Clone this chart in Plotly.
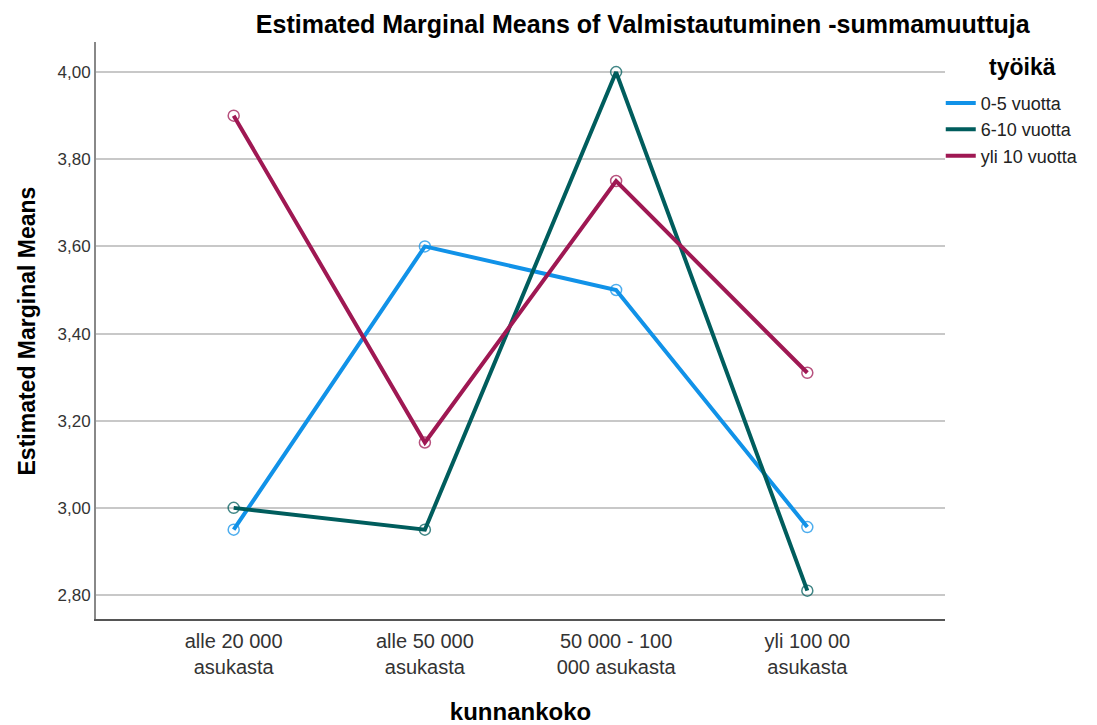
import plotly.graph_objects as go

categories = ["alle 20 000<br>asukasta", "alle 50 000<br>asukasta", "50 000 - 100<br>000 asukasta", "yli 100 00<br>asukasta"]
series_names = ["0-5 vuotta", "6-10 vuotta", "yli 10 vuotta"]
vals_0_5 = [2.95, 3.60, 3.50, 2.956]
vals_6_10 = [3.00, 2.95, 4.00, 2.81]
vals_yli10 = [3.90, 3.15, 3.75, 3.31]
colors = ["#1192e8", "#005d5d", "#9f1853"]
y_ticks = [2.8, 3.0, 3.2, 3.4, 3.6, 3.8, 4.0]
y_tick_labels = ["2,80", "3,00", "3,20", "3,40", "3,60", "3,80", "4,00"]

fig = go.Figure()
x_idx = list(range(len(categories)))
for name, vals, col in zip(series_names, [vals_0_5, vals_6_10, vals_yli10], colors):
    fig.add_trace(go.Scatter(
        x=x_idx, y=vals, name=name, mode="lines+markers", showlegend=False,
        line=dict(color=col, width=4),
        marker=dict(symbol="circle-open", size=11, color=col, opacity=0.75, line=dict(width=1.5)),
    ))
# legend entries (lines only, as in the reference legend)
for name, col in zip(series_names, colors):
    fig.add_trace(go.Scatter(
        x=[None], y=[None], name=name, mode="lines",
        line=dict(color=col, width=4), showlegend=True,
    ))

fig.update_layout(
    width=1089, height=717,
    margin=dict(l=88, r=152, t=34, b=106, autoexpand=False),
    paper_bgcolor="white", plot_bgcolor="white",
    font=dict(family="Liberation Sans, Arial, sans-serif", color="#000"),
    title=dict(text="<b>Estimated Marginal Means of Valmistautuminen -summamuuttuja</b>",
               x=0.644, xref="paper", xanchor="center", y=0.978, yref="container", yanchor="middle",
               font=dict(size=25, color="#000")),
    showlegend=True,
    legend=dict(
        x=0.995, xanchor="left", y=0.926, yanchor="top",
        font=dict(size=18, color="#222"),
        tracegroupgap=0, bgcolor="rgba(0,0,0,0)",
    ),
    annotations=[
        dict(text="<b>työikä</b>", xref="paper", yref="paper", x=1.0907, y=0.9567,
             xanchor="center", yanchor="middle", showarrow=False,
             font=dict(size=23, color="#000")),
        dict(text="<b>Estimated Marginal Means</b>", xref="paper", yref="paper",
             x=-0.0813, y=0.5, xanchor="center", yanchor="middle", textangle=-90,
             showarrow=False, font=dict(size=23, color="#000")),
    ],
)
fig.update_xaxes(
    tickmode="array", tickvals=x_idx, ticktext=categories,
    range=[-0.72, 3.72], showgrid=False, zeroline=False,
    showline=True, linecolor="#555", linewidth=1.5, ticks="",
    tickfont=dict(size=20, color="#333"), ticklabelstandoff=3,
    title=dict(text="<b>kunnankoko</b>", font=dict(size=24, color="#000"), standoff=32),
    automargin=False,
)
fig.update_yaxes(
    tickmode="array", tickvals=y_ticks, ticktext=y_tick_labels,
    range=[2.745, 4.069], showgrid=True, gridcolor="#c8c8c8", gridwidth=2,
    zeroline=False, showline=True, linecolor="#888", linewidth=2, ticks="",
    tickfont=dict(size=17, color="#333"),
    automargin=False,
)

fig.write_html("out.html")
